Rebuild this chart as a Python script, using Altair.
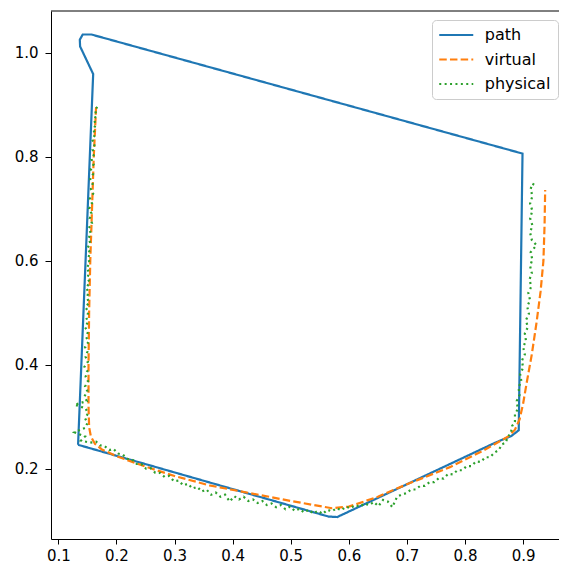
import altair as alt
import pandas as pd

# ---- data ----
path_x = [0.134, 0.160, 0.1375, 0.137, 0.142, 0.157, 0.899, 0.8925, 0.880, 0.852, 0.580, 0.565, 0.134]
path_y = [0.246, 0.959, 1.012, 1.025, 1.035, 1.035, 0.806, 0.274, 0.263, 0.250, 0.107, 0.108, 0.246]

virt_x = [0.165, 0.161, 0.158, 0.155, 0.153, 0.152, 0.152, 0.153, 0.156, 0.163, 0.175, 0.200,
          0.250, 0.300, 0.360, 0.430, 0.500, 0.571, 0.600, 0.650, 0.700, 0.774, 0.830, 0.8745,
          0.886, 0.894, 0.900, 0.906, 0.915, 0.923, 0.930, 0.935, 0.937, 0.938]
virt_y = [0.895, 0.800, 0.700, 0.600, 0.500, 0.400, 0.320, 0.280, 0.262, 0.248, 0.237, 0.224,
          0.204, 0.186, 0.168, 0.153, 0.138, 0.124, 0.127, 0.146, 0.170, 0.203, 0.234, 0.262,
          0.275, 0.295, 0.325, 0.364, 0.420, 0.480, 0.540, 0.600, 0.670, 0.736]

# physical: left side (top -> bottom)
phys_left_y = [0.896, 0.889, 0.880, 0.871, 0.862, 0.852, 0.843, 0.833, 0.824, 0.814, 0.805, 0.795,
               0.786, 0.776, 0.767, 0.757, 0.748, 0.738, 0.729, 0.719, 0.710, 0.700, 0.691, 0.681,
               0.672, 0.662, 0.653, 0.643, 0.634, 0.624, 0.615, 0.605, 0.596, 0.586, 0.577, 0.567,
               0.558, 0.548, 0.539, 0.529, 0.520, 0.510, 0.501, 0.491, 0.482, 0.472, 0.463, 0.453,
               0.444, 0.434, 0.425, 0.415, 0.406, 0.396, 0.387, 0.377, 0.368, 0.358, 0.349, 0.339,
               0.330, 0.323, 0.316, 0.306, 0.297, 0.288, 0.279, 0.270, 0.262, 0.254, 0.250]
phys_left_x = [0.167, 0.163, 0.166, 0.161, 0.165, 0.160, 0.164, 0.158, 0.163, 0.159, 0.162, 0.157,
               0.161, 0.156, 0.160, 0.155, 0.159, 0.156, 0.160, 0.154, 0.158, 0.153, 0.157, 0.154,
               0.158, 0.152, 0.156, 0.152, 0.155, 0.150, 0.155, 0.151, 0.154, 0.149, 0.153, 0.150,
               0.154, 0.148, 0.152, 0.149, 0.153, 0.147, 0.152, 0.148, 0.151, 0.146, 0.151, 0.148,
               0.152, 0.146, 0.150, 0.147, 0.151, 0.145, 0.150, 0.147, 0.151, 0.146, 0.150, 0.145,
               0.149, 0.128, 0.147, 0.151, 0.146, 0.150, 0.147, 0.128, 0.146, 0.139, 0.155]
# physical: bottom and right side (left -> right, then up)
phys_rest_x = [0.165, 0.172, 0.180, 0.188, 0.195, 0.203, 0.211, 0.219, 0.227, 0.235, 0.243, 0.251,
               0.259, 0.267, 0.275, 0.283, 0.291, 0.299, 0.307, 0.315, 0.323, 0.331, 0.339, 0.347,
               0.355, 0.363, 0.371, 0.379, 0.387, 0.395, 0.403, 0.411, 0.419, 0.427, 0.435, 0.443,
               0.451, 0.459, 0.467, 0.475, 0.483, 0.491, 0.499, 0.507, 0.515, 0.523, 0.531, 0.539,
               0.547, 0.555, 0.563, 0.571, 0.579, 0.587, 0.595, 0.603, 0.611, 0.619, 0.627, 0.635,
               0.643, 0.651, 0.659, 0.667, 0.675, 0.683, 0.691, 0.699, 0.707, 0.715, 0.723, 0.731,
               0.739, 0.747, 0.755, 0.763, 0.771, 0.779, 0.787, 0.795, 0.803, 0.811, 0.819, 0.827,
               0.835, 0.843, 0.851, 0.858, 0.864, 0.870, 0.874, 0.879, 0.881, 0.886, 0.886, 0.891,
               0.889, 0.894, 0.892, 0.897, 0.895, 0.900, 0.898, 0.903, 0.900, 0.905, 0.903, 0.908,
               0.905, 0.910, 0.907, 0.912, 0.909, 0.914, 0.911, 0.915, 0.912, 0.916, 0.913, 0.923,
               0.915, 0.912, 0.916, 0.912, 0.916, 0.912, 0.916, 0.913, 0.916, 0.921]
phys_rest_y = [0.252, 0.245, 0.243, 0.236, 0.238, 0.229, 0.227, 0.219, 0.218, 0.209, 0.209, 0.200,
               0.201, 0.192, 0.192, 0.184, 0.186, 0.176, 0.177, 0.168, 0.171, 0.162, 0.165, 0.156,
               0.160, 0.150, 0.154, 0.146, 0.150, 0.137, 0.147, 0.141, 0.146, 0.138, 0.141, 0.134,
               0.138, 0.130, 0.133, 0.126, 0.130, 0.122, 0.127, 0.119, 0.123, 0.116, 0.121, 0.114,
               0.119, 0.113, 0.121, 0.118, 0.124, 0.120, 0.127, 0.124, 0.130, 0.127, 0.133, 0.130,
               0.136, 0.128, 0.140, 0.137, 0.126, 0.146, 0.150, 0.153, 0.160, 0.160, 0.167, 0.167,
               0.174, 0.174, 0.182, 0.181, 0.190, 0.189, 0.197, 0.197, 0.205, 0.205, 0.214, 0.213,
               0.222, 0.222, 0.231, 0.236, 0.247, 0.250, 0.262, 0.268, 0.282, 0.290, 0.305, 0.315,
               0.330, 0.342, 0.356, 0.368, 0.382, 0.394, 0.408, 0.420, 0.434, 0.446, 0.460, 0.472,
               0.486, 0.498, 0.512, 0.524, 0.538, 0.550, 0.564, 0.576, 0.590, 0.602, 0.616, 0.630,
               0.640, 0.654, 0.668, 0.682, 0.696, 0.710, 0.724, 0.738, 0.748, 0.745]

series_names = ["path", "virtual", "physical"]
series_colors = ["#1f77b4", "#ff7f0e", "#2ca02c"]
series_dash = [[1, 0], [7.5, 3.2], [2.0, 3.4]]

x_ticks = [0.1, 0.2, 0.3, 0.4, 0.5, 0.6, 0.7, 0.8, 0.9]
y_ticks = [0.2, 0.4, 0.6, 0.8, 1.0]

# ---- build table ----
phys_x = phys_left_x + phys_rest_x
phys_y = phys_left_y + phys_rest_y
rows = []
for name, xs, ys in [("path", path_x, path_y), ("virtual", virt_x, virt_y), ("physical", phys_x, phys_y)]:
    for i, (a, b) in enumerate(zip(xs, ys)):
        rows.append({"series": name, "order": i, "x": a, "y": b})
df = pd.DataFrame(rows)

PAD_L, PAD_T, PAD_B = 43, 3, 25
W, H = 508, 528
x_dom = [0.0874, 0.9618]
y_dom = [0.0648, 1.0802]
FONT = "DejaVu Sans"

xenc = alt.X("x:Q", scale=alt.Scale(domain=x_dom, nice=False, zero=False),
             axis=alt.Axis(values=x_ticks, format=".1f", title=None, grid=False,
                           tickSize=5, labelPadding=4))
yenc = alt.Y("y:Q", scale=alt.Scale(domain=y_dom, nice=False, zero=False),
             axis=alt.Axis(values=y_ticks, format=".1f", title=None, grid=False,
                           tickSize=6, labelPadding=7))
legend_opts = dict(title=None, orient="none", legendX=381, legendY=9,
                   symbolType="M-3.4,0H3.4", symbolSize=100,
                   symbolStrokeWidth=2.2, symbolOffset=9.25,
                   labelOffset=20.5, rowPadding=8.5, padding=7,
                   labelFontSize=16, labelFont=FONT, labelColor="black",
                   strokeColor="#cccccc", fillColor="white", cornerRadius=4)
color = alt.Color("series:N", scale=alt.Scale(domain=series_names, range=series_colors),
                  legend=alt.Legend(**legend_opts))
dash = alt.StrokeDash("series:N", scale=alt.Scale(domain=series_names, range=series_dash),
                      legend=alt.Legend(**legend_opts))

layers = []
for name in series_names:
    layers.append(
        alt.Chart(df[df.series == name]).mark_line(strokeWidth=2.2, strokeCap="butt", clip=True)
        .encode(x=xenc, y=yenc, color=color, strokeDash=dash, order="order:Q")
    )

top_border = alt.Chart(pd.DataFrame({"v": [0]})).mark_rule(color="black", strokeWidth=1).encode(
    x=alt.value(0), x2=alt.value(W), y=alt.value(0)
)

chart = alt.layer(*layers, top_border).properties(
    width=W, height=H,
    padding={"left": PAD_L, "top": PAD_T, "right": 0, "bottom": PAD_B},
    autosize=alt.AutoSizeParams(type="none"),
).configure_view(stroke=None).configure_axis(
    labelFont=FONT, labelFontSize=15, labelColor="black", domainColor="black",
    tickColor="black", domainWidth=1, tickWidth=1
)

chart.save("out.html", embed_options={"renderer": "svg", "actions": False})
